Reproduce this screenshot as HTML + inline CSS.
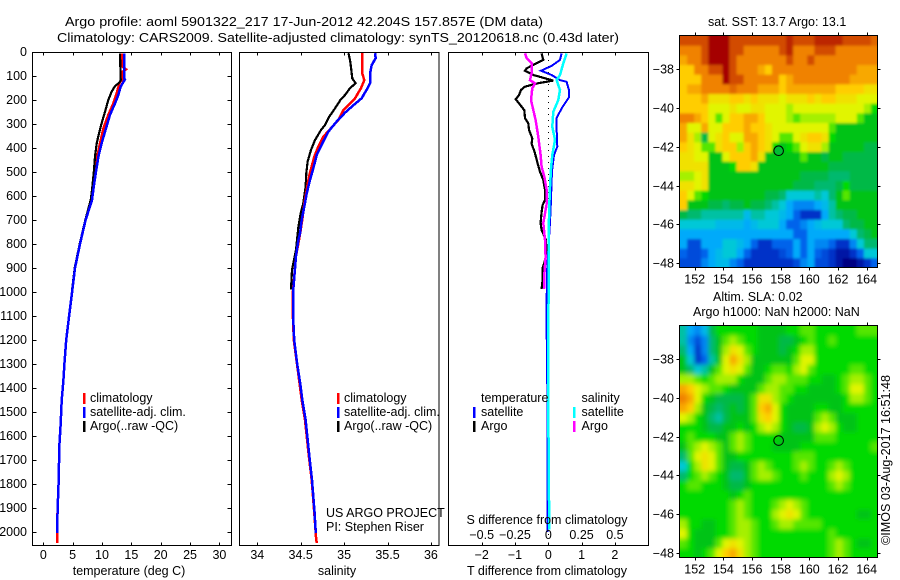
<!DOCTYPE html>
<html lang="en">
<head>
<meta charset="utf-8">
<title>Argo profile 5901322_217</title>
<style>
html,body{margin:0;padding:0;background:#fff;}
svg{display:block;}
text{font-family:"Liberation Sans",sans-serif;font-size:12.5px;fill:#000;}
text.big{font-size:13px;}
</style>
</head>
<body>
<svg id="fig" xmlns="http://www.w3.org/2000/svg" width="900" height="580" viewBox="0 0 900 580">
<defs>
<clipPath id="clipSst"><rect x="680" y="36" width="198" height="232"/></clipPath>
<clipPath id="clipSla"><rect x="680" y="326" width="198" height="232"/></clipPath>
<filter id="blurSst" x="-10%" y="-10%" width="120%" height="120%"><feGaussianBlur stdDeviation="1.4"/></filter>
<filter id="blurSla" x="-10%" y="-10%" width="120%" height="120%"><feGaussianBlur stdDeviation="2.3"/></filter>
</defs>
<text class="big" x="65" y="26" textLength="478" lengthAdjust="spacingAndGlyphs">Argo profile: aoml 5901322_217 17-Jun-2012 42.204S 157.857E (DM data)</text>
<text class="big" x="57" y="42" textLength="562" lengthAdjust="spacingAndGlyphs">Climatology: CARS2009. Satellite-adjusted climatology: synTS_20120618.nc (0.43d later)</text>
<g id="layer"></g>
<text transform="translate(890,545) rotate(-90)" textLength="170" lengthAdjust="spacingAndGlyphs">©IMOS 03-Aug-2017 16:51:48</text>
</svg>
<script>
// ---------- chart data ----------
const depthTicks = [0,100,200,300,400,500,600,700,800,900,1000,1100,1200,1300,1400,1500,1600,1700,1800,1900,2000];
const tempTicks = [0,5,10,15,20,25,30];
const salTicks = [34,34.5,35,35.5,36];
const salTickLabels = ['34','34.5','35','35.5','36'];
const tDiffTicks = [-2,-1,0,1,2];
const tDiffTickLabels = ['\u22122','\u22121','0','1','2'];
const sDiffTicks = [-0.5,-0.25,0,0.25,0.5];
const sDiffTickLabels = ['\u22120.5','\u22120.25','0','0.25','0.5'];
const lonTicks = [152,154,156,158,160,162,164];
const latTicks = [-38,-40,-42,-44,-46,-48];

const tempArgoDepth = [6,117,128,142,165,200,249,297,332,381,436,506,575,617,700,800,900,990];
const tempArgoValue = [13.07,13.18,12.95,12.22,11.65,11.08,10.51,9.94,9.55,9.09,8.81,8.58,8.3,8.07,7.15,6.2,5.35,4.9];
const tempClimDepth = [6,33,61,72,82,110,131,172,214,262,318,381,436,492,547,617,700,800,900,1000,1100,1200,1300,1374,1450,1547,1644,1783,1895,1978,2046];
const tempClimValue = [13.47,13.47,13.47,14.09,13.47,13.52,12.95,12.5,11.93,11.08,10.23,9.66,9.2,8.92,8.64,8.3,7.2,6.25,5.4,4.9,4.4,3.9,3.6,3.41,3.13,2.96,2.73,2.62,2.45,2.35,2.35];
const tempSatDepth = [6,110,114,144,179,214,262,318,381,436,506,575,617,700,800,900,1000,1100,1200,1300,1374,1450,1547,1644,1783,1895,2005];
const tempSatValue = [13.75,13.75,13.92,13.18,12.78,12.22,11.36,10.68,9.94,9.38,8.92,8.52,8.3,7.2,6.25,5.4,4.9,4.4,3.9,3.6,3.41,3.13,2.96,2.73,2.62,2.45,2.33];

const salArgoDepth = [5,33,54,89,110,130,151,179,200,235,269,304,325,367,408,457,505,561,630,672,728,783,825,908,990];
const salArgoValue = [35.049,35.068,35.076,35.087,35.095,35.133,35.068,35.01,34.957,34.895,34.83,34.78,34.734,34.665,34.619,34.58,34.565,34.557,34.53,34.5,34.473,34.457,34.446,34.4,34.388];
const salClimDepth = [5,47,89,117,151,193,214,242,283,314,353,394,436,478,519,575,631,686,742,783,850,1000,1100,1200,1300,1395,1450,1533,1686,1783,1921,2020,2046];
const salClimValue = [35.21,35.21,35.21,35.233,35.195,35.126,35.068,34.991,34.934,34.857,34.761,34.703,34.657,34.626,34.596,34.569,34.542,34.523,34.5,34.48,34.446,34.41,34.41,34.42,34.457,34.492,34.512,34.55,34.595,34.627,34.657,34.676,34.684];
const salSatDepth = [5,26,54,89,130,151,193,228,253,290,332,381,429,485,533,589,644,700,756,783,850,1000,1100,1200,1300,1395,1450,1533,1686,1783,1921,2005];
const salSatValue = [35.356,35.364,35.318,35.299,35.299,35.271,35.202,35.087,35.01,34.914,34.818,34.749,34.684,34.645,34.607,34.569,34.542,34.511,34.492,34.473,34.446,34.412,34.412,34.425,34.46,34.5,34.518,34.556,34.6,34.63,34.66,34.674];

const dTempArgoDepth = [6,33,50,68,78,96,119,130,144,158,179,197,214,242,276,297,325,360,381,422,464,499,533,575,617,638,667,712,742,783,846,887,900,950,988];
const dTempArgoValue = [-0.2,-0.15,-0.4,-0.65,-0.7,-0.45,0.15,-0.3,-0.7,-0.82,-0.88,-0.98,-0.88,-0.72,-0.7,-0.6,-0.58,-0.48,-0.5,-0.4,-0.32,-0.25,-0.15,-0.1,-0.1,-0.17,-0.2,-0.23,-0.2,-0.07,-0.05,-0.14,-0.17,-0.17,-0.2];
const dSalArgoDepth = [6,26,47,89,117,131,151,200,242,283,353,429,478,519,575,638,712,783,854,929,988];
const dSalArgoValue = [-0.175,-0.1625,-0.125,-0.125,-0.1375,-0.1,-0.12,-0.13,-0.1125,-0.095,-0.075,-0.0575,-0.05,-0.03,-0.012,-0.0135,-0.0375,-0.025,-0.02,-0.03,-0.032];
const dTempSatDepth = [6,33,58,78,96,117,124,158,189,235,276,318,394,429,485,533,617,708,917,1100,1400,2000];
const dTempSatValue = [0.4,0.35,0.1,-0.22,0.1,0.35,0.55,0.62,0.62,0.4,0.25,0.25,0.27,0.17,0.12,0.1,0.08,0.05,-0.04,-0.054,-0.03,-0.03];
const dSalSatDepth = [6,47,96,117,158,200,249,311,367,429,485,561,617,742,1400,1700,1990];
const dSalSatValue = [0.1375,0.1125,0.0875,0.0625,0.0875,0.075,0.0375,0.03,0.05,0.03,0.02,0.0125,0.009,0.003,0,0.0025,0.0075];

// colour-scale level of each map cell, rows north to south
const sstLevels = [
[11,11,11,11,12,12,12,11,11,11,11,11,11,11,11,11.5,11,11,11,11.5,11.5,11.5,11.5,11,11,11,11,10.5],
[10,10,10,11,12,12,12,11,11,10,10,10,10,10,11,11.5,10,10,10,11,11,11,10,10,10,10,10,10],
[9.5,10,10,11,12,12,12,11,10,10,10,10,10,10,10,11,10,10,11,10,10,10,10,10,10,10,10,10],
[9,9,10,10,11,11,12,11,10,10,10,9.5,9,10,10,10,10,10,10,10,10,10,10,10,10,9.5,9.5,9.5],
[9,9,9,10,10,10,12,11,11,10,10,10,10,10,9,9.5,10,10,10,10,10,10,10,10,9.5,9.5,9.5,9.5],
[9,9.5,9.5,10,10,10,10,10.5,10,10,10,9.5,9.5,9.5,9,9.5,9.5,9.5,9.5,9.5,9.5,9.5,9,9,9,9,8.5,8.5],
[9,9,9,9.5,8.5,8.5,8.5,9,9,8.5,9,8.5,8.5,8.5,8,8.5,8.5,8.5,9,8.5,9,9,8.5,8.5,8.5,8,8,8],
[9,9,9,9,8,8,8,8.5,8,8,8.5,8.5,8,8,8,7.5,8,8,8,8,8,8,8,8,8,8,7.5,6.5],
[10,10,9.5,9,8,7,8,9,9,9.5,9.5,9,8,8,8,7.5,7,7.5,7.5,7.5,7.5,7.5,8,8,8,7,6,6],
[9.5,8,8,9.5,8,8,9,9,9,9.5,9,9,8.5,8,8,8,8,8,8,8,8,7,6,6,6,6,6,6],
[9.5,8.5,7.5,5.5,8,8.5,9,8,8,9.5,9.5,9,8.5,8,7,7,8,8.5,9,9,8.5,6.5,6,6,6,6,6,6],
[9,8.5,8,7,7,8.5,9,9,7.5,9,9.5,9,8.5,6.5,6,6.5,7,8,8.5,8.5,7.5,6,6,6,6,6,5.5,5.5],
[8.5,8.5,8,8,6,6,8,9,9,9,9.5,8.5,6,6,6,6,6,7,6,6,5.5,6,6,5.5,5.5,5.5,5.5,5.5],
[8.5,8.5,8.5,8.5,6,6,6,6.5,9,9,8.5,6,6,6,6,6,6,6,6,6,6,5.5,5.5,5.5,5.5,5.5,5.5,5.5],
[7.5,7.5,8,8.5,6,6,6,6,6,6,6,6,6,6,6,6,6,5.5,5.5,5.5,5.5,5,5,5,5.5,5.5,5.5,5.5],
[8.5,8.5,8,8.5,6,6,6,6,6,6,6,6,6,6,6,6,5.5,5.5,5.5,5,5,5,5.5,6.5,5.5,5.5,5.5,5.5],
[9,8,7,6.5,6,6,6,6,6,6,6,6,5.5,5.5,5,4,4,4,4,4.5,4,5,6,7,6,6,6,6],
[9,6,6,6,5.5,5.5,5,5.5,5.5,6,5.5,5.5,5,4.5,4,3,2.5,2.5,2.5,3,3.5,4.5,6,6,6,6,6,6],
[5.5,5,5,4.5,4.5,4.5,4.5,4.5,4.5,3.5,4.5,4.5,4,4,3.5,3,2,1,1,1,3,4.5,5,5.5,5.5,6,6,6],
[4,4,4,4,4,3.5,3.5,3.5,3.5,3,3.5,4,4,4,3,2,2,2.5,3,3.5,4,4,4,5,5.5,5.5,6,6],
[3,3,3,3,3,3,3,3,3,3,3,3,3,3,3,3,2,2,3,3,3,3,3,3,4,5,5.5,6],
[3,1.5,1.5,3,3,3,4,4,3.5,3,2,1,1,2,2,2,3,2,3,2.5,2.5,2,1,1,2.5,4,5,5],
[2,1.5,1.5,2,3,3.5,4,4,3,2,1,1,1,1,1.5,2,3,2,3,2,1.5,1,0.5,0.5,1,2,4,4],
[1.5,1.5,1.5,2.5,3,3.5,3.5,2.5,2,1,1,1,1,1,1,1,1.5,2.5,3,1.5,1.5,1,0.5,0,0,0.5,1,2]
];
const slaLevels = [
[4.5,3,2.5,3.5,5.5,6.5,6.5,6.5,6.5,6.5,6.5,6,6,6,6,6.5,6.5,7,7,6.5,6.5,6.5,6.5,6.5,6.5,7,7,7],
[4.5,2.5,1.5,2.5,5,6,7,7.5,7,6.5,6.5,6,6,6,5.5,5.5,6,6.5,7,6.5,6.5,7,6.5,6.5,6.5,6.5,6.5,6.5],
[5,3,1,2.5,5,6,7.5,8.5,8,7,6.5,6,6,6,5.5,6,6.5,7.5,7.5,6.5,6.5,6.5,6.5,6.5,6.5,6.5,6.5,6.5],
[6,4,1,2,4.5,6,8,9.5,8.5,7.5,6,6,6,6,6,6,7,8,8,6.5,6.5,6.5,6.5,6.5,6.5,6.5,6.5,6.5],
[6,5,4,4.5,6,7,8,8.5,8,7,6,6,6.5,7,7,6.5,7.5,8,7,6.5,6.5,6.5,6.5,6.5,7,7,6.5,6.5],
[7.5,7.5,7,6.5,7,7.5,7.5,7.5,6.5,6,6,6,7,7.5,7.5,7,7,7,6.5,6.5,6,6,6.5,7,7.5,7.5,7,6.5],
[9.5,9,8,7.5,7,7,6.5,6,6,6,6,7,7.5,7.5,7,7,6.5,6.5,6,6,6,6,6.5,7,8,8,7,6.5],
[10,9.5,8,6.5,6,5.5,5.5,5.5,5.5,6,7,8.5,8.5,7.5,7,6.5,6,6,6,6,6,6,6,6.5,7.5,7.5,7,6.5],
[9.5,9,7.5,6,5.5,5,5.5,6,5.5,6,7,9,9.5,8,6.5,6,6,6,6,6.5,6.5,6,6,6.5,6.5,6.5,6.5,6.5],
[8,7.5,6.5,6,5,4.5,5.5,6,6,6,7,8.5,9,8,6.5,6,6,6,6,7,7.5,7,6,6,6,6.5,6.5,6.5],
[6.5,6.5,6.5,6,5.5,5.5,6,6,6.5,6,6.5,7.5,8,7.5,6.5,6,5.5,5.5,6,7.5,8,7.5,6.5,6,6,6.5,6.5,6.5],
[6.5,7,6.5,6.5,6.5,6,6,7,7.5,7,6.5,6.5,6.5,6.5,6,6,6,6,6,7,7,7,6.5,6.5,6.5,6.5,6.5,6.5],
[6,7,7.5,8,7.5,7,6,7,7.5,7,6.5,6.5,6.5,6,6,6,6,6.5,6.5,6.5,6.5,6.5,6.5,6.5,6.5,6.5,6.5,7],
[5,7,8,8.5,8,7,6,6,6.5,6.5,6.5,6.5,6.5,6.5,6.5,6.5,7,7,7,6.5,6.5,6.5,6.5,6.5,6.5,6.5,6.5,6.5],
[4,6.5,7.5,8.5,8,7,6,5.5,5.5,6,7,7.5,7,6.5,6.5,6.5,7,7.5,7,6.5,6.5,7,7.5,7,6.5,6.5,6.5,6.5],
[5,6.5,7,7.5,7,6.5,6,5,5,6,7,7.5,7.5,7,6.5,6.5,6.5,7,6.5,6.5,6.5,7.5,8,7.5,6.5,6.5,6.5,6.5],
[6.5,7,7,6.5,6.5,6.5,6,5.5,5.5,6,6.5,6.5,6.5,6.5,6.5,6.5,6.5,6.5,6.5,6.5,6.5,7,7.5,7,6.5,6.5,6.5,6.5],
[6.5,6.5,6.5,6.5,6.5,6.5,6.5,6,6.5,7,6.5,6.5,6.5,6.5,6.5,6.5,6.5,6.5,6.5,6.5,6.5,6.5,6.5,6.5,6.5,6.5,6.5,6.5],
[6.5,6.5,6.5,6.5,6.5,6.5,6.5,7,7.5,7,6.5,6.5,6.5,7,7.5,8,7.5,7,6.5,6.5,6.5,6.5,6.5,6.5,6.5,6.5,6.5,6.5],
[6.5,6.5,6.5,6.5,6.5,6.5,6.5,7,7.5,7,6.5,6.5,6.5,7.5,8,8.5,8,7,6.5,6.5,6.5,6.5,6.5,6.5,6.5,6,6,6.5],
[7.5,6.5,6.5,6,6,6.5,6.5,7,7.5,7.5,7,6.5,6.5,7,7.5,7.5,7,7,7,7,6.5,6.5,6.5,6.5,6.5,6.5,6.5,6.5],
[8,6.5,6,6,6,6.5,6.5,7,7.5,7.5,7,6.5,6.5,6.5,6.5,6.5,6.5,6.5,6.5,6.5,6.5,7,6.5,6.5,6.5,6.5,6.5,6.5],
[7,6.5,6,6,6,7,8,8.5,8,7.5,7,6.5,6.5,6.5,6.5,6.5,6.5,6.5,6.5,6.5,6.5,7,7.5,7,6.5,6,6,6.5],
[6.5,6.5,6,6.5,7,8,9,9.5,8.5,7.5,7,6.5,6.5,6.5,6.5,6.5,6.5,6.5,6.5,6.5,6.5,7,7.5,7,6.5,6.5,6.5,6.5]
];
const floatLon = 157.857;
const floatLat = -42.204;
const floatSstLevel = 5.7;

// ---------- axis functions ----------
const yD = d => 52 + d * 0.24;
const xTemp = t => 43.3 + t * 5.87;
const xSal = s => 257.3 + (s - 34) * 86.8;
const xDT = t => 548.3 + t * 33.3;
const xDS = s => 548.3 + s * 133.2;
const xLon = l => 694.7 + (l - 152) * 14.33;
const ySstLat = l => 69.3 + (-38 - l) * 19.37;
const ySlaLat = l => 359.3 + (-38 - l) * 19.33;

const SVGNS = 'http://www.w3.org/2000/svg';
const layer = document.getElementById('layer');

function shape(tag, attrs, name, parent) {
  const el = document.createElementNS(SVGNS, tag);
  for (const k in attrs) el.setAttribute(k, attrs[k]);
  
  
  (parent || layer).appendChild(el);
  return el;
}
function label(str, x, y, anchor, name) {
  const el = shape('text', {x: x, y: y, 'text-anchor': anchor || 'start'}, name);
  el.textContent = str;
  return el;
}
function tick(x1, y1, x2, y2, name) {
  shape('line', {x1: x1, y1: y1, x2: x2, y2: y2, stroke: '#000', 'stroke-width': 1, 'shape-rendering': 'crispEdges'}, name);
}
function frame(x, y, w, h, name) {
  shape('rect', {x: x, y: y, width: w, height: h, fill: 'none', stroke: '#000', 'stroke-width': 1, 'shape-rendering': 'crispEdges'}, name);
}
function series(depths, values, xf, color, width, name) {
  const pts = depths.map((d, i) => xf(values[i]).toFixed(1) + ',' + yD(d).toFixed(1)).join(' ');
  shape('polyline', {points: pts, fill: 'none', stroke: color, 'stroke-width': width, 'stroke-linejoin': 'miter', 'shape-rendering': 'crispEdges'}, name);
}
function legendBar(x, y, color, name) {
  shape('rect', {x: x, y: y, width: 2.5, height: 11, fill: color, 'shape-rendering': 'crispEdges'}, name);
}

const TOP = 52.5, BOT = 545.5;

// ---------- temperature panel ----------
frame(32.5, TOP, 199, 493, 'temperature-panel-frame');
series(tempClimDepth, tempClimValue, xTemp, '#ff0000', 2.5, 'temperature-climatology-line');
series(tempArgoDepth, tempArgoValue, xTemp, '#000000', 2.2, 'temperature-argo-line');
series(tempSatDepth, tempSatValue, xTemp, '#0000ff', 2.5, 'temperature-satellite-line');
depthTicks.forEach(d => {
  const y = Math.round(yD(d)) + 0.5;
  tick(32.5, y, 36.5, y, 'depth-tick-left');
  tick(227.5, y, 231.5, y, 'depth-tick-right');
  label(String(d), 27, Math.round(yD(d)) + 4, 'end', 'depth-tick-label');
});
tempTicks.forEach(t => {
  const x = Math.round(xTemp(t)) + 0.5;
  tick(x, TOP, x, TOP + 3, 'temperature-tick-top');
  tick(x, BOT, x, BOT - 3, 'temperature-tick-bottom');
  label(String(t), xTemp(t), 559, 'middle', 'temperature-tick-label');
});
label('temperature (deg C)', 129, 575, 'middle', 'temperature-axis-title');
legendBar(83, 393, '#ff0000', 'legend-climatology-swatch');
legendBar(83, 407, '#0000ff', 'legend-satellite-swatch');
legendBar(83, 421, '#000000', 'legend-argo-swatch');
label('climatology', 90, 402, 'start', 'legend-climatology-label');
label('satellite-adj. clim.', 90, 416, 'start', 'legend-satellite-label');
label('Argo(..raw -QC)', 90, 430, 'start', 'legend-argo-label');

// ---------- salinity panel ----------
frame(239.5, TOP, 199.5, 493, 'salinity-panel-frame');
series(salArgoDepth, salArgoValue, xSal, '#000000', 2.2, 'salinity-argo-line');
series(salClimDepth, salClimValue, xSal, '#ff0000', 2.5, 'salinity-climatology-line');
series(salSatDepth, salSatValue, xSal, '#0000ff', 2.5, 'salinity-satellite-line');
salTicks.forEach((s, i) => {
  const x = Math.round(xSal(s)) + 0.5;
  tick(x, TOP, x, TOP + 3, 'salinity-tick-top');
  tick(x, BOT, x, BOT - 3, 'salinity-tick-bottom');
  label(salTickLabels[i], xSal(s), 559, 'middle', 'salinity-tick-label');
});
label('salinity', 337, 575, 'middle', 'salinity-axis-title');
legendBar(337, 393, '#ff0000', 'legend-climatology-swatch');
legendBar(337, 407, '#0000ff', 'legend-satellite-swatch');
legendBar(337, 421, '#000000', 'legend-argo-swatch');
label('climatology', 344, 402, 'start', 'legend-climatology-label');
label('satellite-adj. clim.', 344, 416, 'start', 'legend-satellite-label');
label('Argo(..raw -QC)', 344, 430, 'start', 'legend-argo-label');
label('US ARGO PROJECT', 326, 517, 'start', 'project-label');
label('PI: Stephen Riser', 326, 531, 'start', 'pi-label');

// ---------- difference panel ----------
frame(448.5, TOP, 200, 493, 'difference-panel-frame');
for (let y = 54; y < 540; y += 6) {
  shape('rect', {x: 548, y: y, width: 1, height: 1, fill: '#000'}, 'zero-line-dot');
}
series(dTempArgoDepth, dTempArgoValue, xDT, '#000000', 2.2, 'difference-temperature-argo-line');
series(dSalArgoDepth, dSalArgoValue, xDS, '#ff00ff', 2.5, 'difference-salinity-argo-line');
series(dTempSatDepth, dTempSatValue, xDT, '#0000ff', 2, 'difference-temperature-satellite-line');
series(dSalSatDepth, dSalSatValue, xDS, '#00ffff', 2.5, 'difference-salinity-satellite-line');
tDiffTicks.forEach((t, i) => {
  const x = Math.round(xDT(t)) + 0.5;
  tick(x, TOP, x, TOP + 3, 'difference-tick-top');
  tick(x, BOT, x, BOT - 3, 'difference-tick-bottom');
  label(tDiffTickLabels[i], xDT(t), 559, 'middle', 'temperature-difference-tick-label');
});
sDiffTicks.forEach((s, i) => {
  label(sDiffTickLabels[i], xDS(s), 539, 'middle', 'salinity-difference-tick-label');
});
label('S difference from climatology', 547, 524, 'middle', 'salinity-difference-title');
label('T difference from climatology', 547, 575, 'middle', 'temperature-difference-title');
label('temperature', 481, 402, 'start', 'legend-temperature-heading');
label('satellite', 481, 416, 'start', 'legend-temperature-satellite-label');
label('Argo', 481, 430, 'start', 'legend-temperature-argo-label');
label('salinity', 581.5, 402, 'start', 'legend-salinity-heading');
label('satellite', 581.5, 416, 'start', 'legend-salinity-satellite-label');
label('Argo', 581.5, 430, 'start', 'legend-salinity-argo-label');
legendBar(473, 407, '#0000ff', 'legend-temperature-satellite-swatch');
legendBar(473, 421, '#000000', 'legend-temperature-argo-swatch');
legendBar(573, 407, '#00ffff', 'legend-salinity-satellite-swatch');
legendBar(573, 421, '#ff00ff', 'legend-salinity-argo-swatch');

// ---------- maps ----------
const stops = [[0,0,0,130],[1,0,50,200],[2,0,100,235],[3,0,170,250],[4,0,200,215],[5,0,185,110],[5.5,0,185,70],[6,0,195,25],[6.5,0,218,0],[7,85,230,0],[7.5,165,240,0],[8,225,245,0],[9,255,205,0],[10,240,130,0],[11,210,75,0],[12,165,0,0]];
function colorOf(level) {
  for (let i = 1; i < stops.length; i++) {
    if (level <= stops[i][0]) {
      const a = stops[i - 1], b = stops[i];
      const f = (level - a[0]) / (b[0] - a[0]);
      return 'rgb(' + [1, 2, 3].map(k => Math.round(a[k] + (b[k] - a[k]) * f)).join(',') + ')';
    }
  }
  return 'rgb(165,0,0)';
}
function heatmap(levels, x0, y0, w, h, clipId, blurId, name) {
  const clip = shape('g', {'clip-path': 'url(#' + clipId + ')'}, name + '-clip');
  const g = shape('g', {filter: 'url(#' + blurId + ')'}, name, clip);
  const rows = levels.length, cols = levels[0].length;
  const cw = w / cols, ch = h / rows, pad = 14;
  levels.forEach((row, r) => row.forEach((v, c) => {
    const x = x0 + c * cw - (c === 0 ? pad : 0);
    const y = y0 + r * ch - (r === 0 ? pad : 0);
    const rw = cw + 0.6 + (c === 0 ? pad : 0) + (c === cols - 1 ? pad : 0);
    const rh = ch + 0.6 + (r === 0 ? pad : 0) + (r === rows - 1 ? pad : 0);
    shape('rect', {x: x.toFixed(2), y: y.toFixed(2), width: rw.toFixed(2), height: rh.toFixed(2), fill: colorOf(v)}, name + '-cell', g);
  }));
}
function mapAxes(yLat, top, bottom, prefix) {
  lonTicks.forEach(l => {
    const x = Math.round(xLon(l)) + 0.5;
    tick(x, top, x, top - 3, prefix + '-lon-tick-top');
    tick(x, bottom, x, bottom + 3, prefix + '-lon-tick-bottom');
    label(String(l), xLon(l), bottom + 16, 'middle', prefix + '-lon-tick-label');
  });
  latTicks.forEach(l => {
    const y = Math.round(yLat(l)) + 0.5;
    tick(679.5, y, 676.5, y, prefix + '-lat-tick-left');
    tick(877.5, y, 880.5, y, prefix + '-lat-tick-right');
    label('\u2212' + Math.abs(l), 674, y + 4, 'end', prefix + '-lat-tick-label');
  });
}
heatmap(sstLevels, 680, 36, 198, 232, 'clipSst', 'blurSst', 'sst-map');
frame(679.5, 35.5, 198, 232, 'sst-map-frame');
mapAxes(ySstLat, 35.5, 267.5, 'sst');
shape('circle', {cx: xLon(floatLon), cy: ySstLat(floatLat), r: 4.8, fill: colorOf(floatSstLevel), stroke: '#000', 'stroke-width': 1}, 'sst-float-marker');
label('sat. SST: 13.7 Argo: 13.1', 708, 26, 'start', 'sst-map-title');

heatmap(slaLevels, 680, 326, 198, 232, 'clipSla', 'blurSla', 'sla-map');
frame(679.5, 325.5, 198, 232, 'sla-map-frame');
mapAxes(ySlaLat, 325.5, 557.5, 'sla');
shape('circle', {cx: xLon(floatLon), cy: ySlaLat(floatLat), r: 4.8, fill: 'none', stroke: '#000', 'stroke-width': 1}, 'sla-float-marker');
label('Altim. SLA: 0.02', 713, 301, 'start', 'sla-map-title');
label('Argo h1000: NaN h2000: NaN', 693, 316, 'start', 'sla-map-subtitle');
</script>
</body>
</html>
